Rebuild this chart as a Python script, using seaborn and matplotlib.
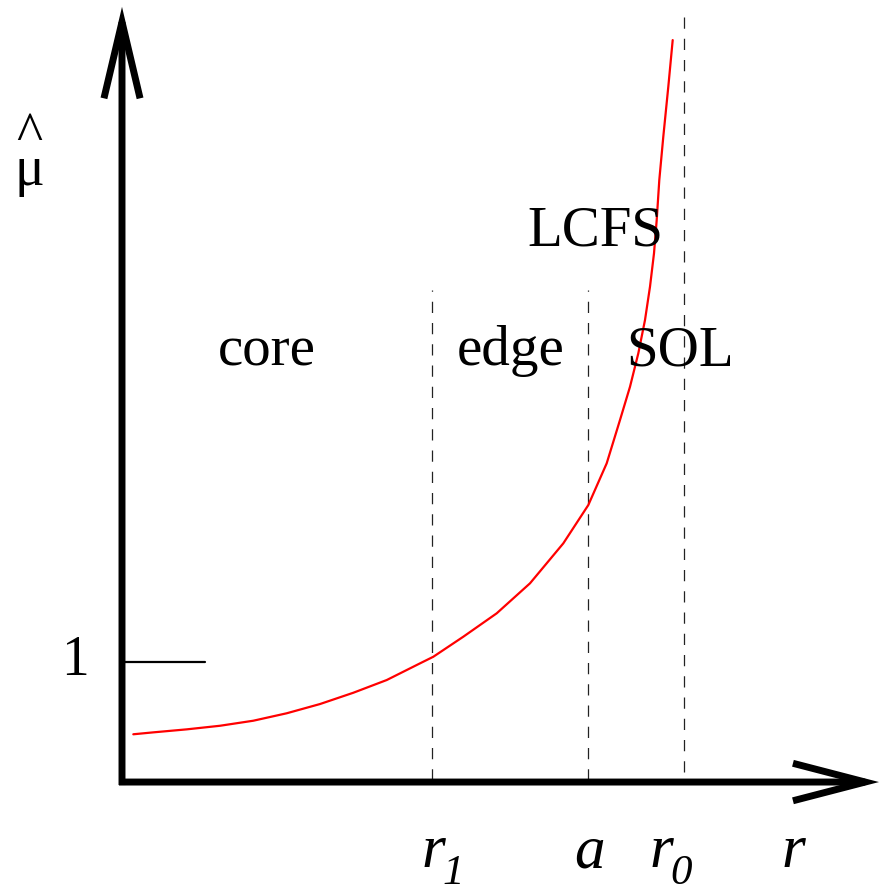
import matplotlib
matplotlib.use("Agg")
import matplotlib.pyplot as plt
import seaborn as sns
import pandas as pd

sns.set_theme(style="white")
plt.rcParams["font.family"] = ["Liberation Serif", "DejaVu Serif"]
plt.rcParams["text.color"] = "black"

# Normalised viscosity profile mu_hat(r) across the plasma radius
r_vals = [0.113, 0.313, 0.647, 0.980, 1.313, 1.647, 1.980, 2.313, 2.647,
          2.980, 3.113, 3.413, 3.747, 4.080, 4.413, 4.663, 4.847, 4.980,
          5.080, 5.163, 5.230, 5.280, 5.320, 5.347, 5.373, 5.413, 5.463,
          5.507]
mu_vals = [0.398, 0.414, 0.439, 0.469, 0.511, 0.573, 0.650, 0.744, 0.850,
           0.989, 1.044, 1.211, 1.406, 1.656, 1.989, 2.308, 2.656, 3.017,
           3.294, 3.572, 3.850, 4.128, 4.406, 4.683, 5.017, 5.378, 5.794,
           6.183]

# Radial boundaries: edge start, separatrix (LCFS), wall
boundary_names = ["r1", "a", "r0"]
boundary_r = [3.10, 4.66, 5.62]
boundary_top = [4.10, 4.10, 6.39]
boundary_bottom = [0.02, 0.02, 0.08]

region_labels = ["core", "edge", "SOL"]
region_r = [1.45, 3.89, 5.58]

profile = pd.DataFrame({"r": r_vals, "mu": mu_vals})

fig = plt.figure(figsize=(8.81, 8.94), dpi=100)
ax = fig.add_axes([0, 0, 1, 1])
ax.set_xlim(-1.22, 7.59)
ax.set_ylim(-0.933, 6.517)
ax.axis("off")

# boundaries
for xb, yt, yb in zip(boundary_r, boundary_top, boundary_bottom):
    ax.plot([xb, xb], [yb, yt], color="#222222", lw=0.9,
            dashes=(9, 8), zorder=1)

# profile curve
sns.lineplot(data=profile, x="r", y="mu", ax=ax, color="red", lw=1.6,
             sort=False, legend=False, zorder=3)

# axes with open arrowheads
ax.annotate("", xy=(0, 6.46), xytext=(0, -0.025),
            arrowprops=dict(arrowstyle="->, head_length=55, head_width=13",
                            mutation_scale=1, lw=5, color="black",
                            shrinkA=0, shrinkB=0, capstyle="butt",
                            joinstyle="miter"))
ax.annotate("", xy=(7.57, 0), xytext=(-0.03, 0),
            arrowprops=dict(arrowstyle="->, head_length=52, head_width=13.5",
                            mutation_scale=1, lw=5, color="black",
                            shrinkA=0, shrinkB=0, capstyle="butt",
                            joinstyle="miter"))

# unit tick on the mu axis
ax.plot([0, 0.83], [1, 1], color="black", lw=1.6)
ax.text(-0.47, 0.89, "1", fontsize=40, ha="center", va="baseline")

# axis labels (hat stacked over mu in one text)
ax.text(-0.93, 4.975, "^\n\u03bc", fontsize=40, ha="center", va="baseline",
        multialignment="center", linespacing=0.55)
ax.text(6.71, -0.708, "r", fontsize=44, style="italic", ha="center",
        va="baseline")

# boundary labels
ax.text(3.11, -0.708, "r", fontsize=44, style="italic", ha="center", va="baseline")
ax.text(3.31, -0.85, "1", fontsize=31, style="italic", ha="center", va="baseline")
ax.text(4.67, -0.708, "a", fontsize=44, style="italic", ha="center", va="baseline")
ax.text(5.39, -0.708, "r", fontsize=44, style="italic", ha="center", va="baseline")
ax.text(5.59, -0.85, "0", fontsize=31, style="italic", ha="center", va="baseline")

# region labels
for name, xr in zip(region_labels, region_r):
    ax.text(xr, 3.475, name, fontsize=41, ha="center", va="baseline")
ax.text(4.73, 4.475, "LCFS", fontsize=41, ha="center", va="baseline")

fig.savefig("out.png", dpi=100, facecolor="white")
